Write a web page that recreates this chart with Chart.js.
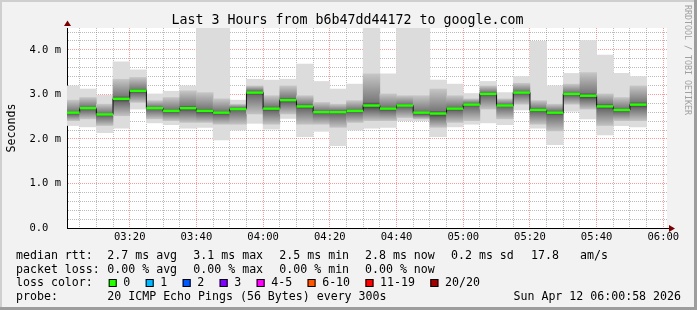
<!DOCTYPE html>
<html>
<head>
<meta charset="utf-8">
<script src="https://cdn.jsdelivr.net/npm/chart.js@4/dist/chart.umd.min.js"></script>
<style>
html, body { margin: 0; padding: 0; background: #f2f2f2; }
canvas { display: block; }
</style>
</head>
<body>
<canvas id="chart" width="697" height="310"></canvas>
<script>
// 5分ごとの計測スロット（開始時刻）
const slots = ['03:00','03:05','03:10','03:15','03:20','03:25','03:30','03:35','03:40','03:45',
               '03:50','03:55','04:00','04:05','04:10','04:15','04:20','04:25','04:30','04:35',
               '04:40','04:45','04:50','04:55','05:00','05:05','05:10','05:15','05:20','05:25',
               '05:30','05:35','05:40','05:45','05:50'];
// RTT (ms)
const median  = [2.59,2.69,2.55,2.90,3.08,2.69,2.63,2.69,2.63,2.59,2.67,3.04,2.68,2.87,2.73,2.60,2.60,2.63,2.75,2.68,
                 2.75,2.59,2.57,2.68,2.77,3.01,2.75,3.04,2.65,2.59,3.01,2.97,2.73,2.65,2.77];
const pingMax = [3.19,3.12,2.98,3.73,3.55,3.01,3.07,3.19,4.49,4.49,2.87,3.34,3.32,3.34,3.68,3.29,3.12,3.23,4.49,3.46,
                 4.49,4.49,3.32,3.23,3.02,3.29,3.04,3.40,4.19,3.19,3.47,4.21,3.88,3.47,3.40];
const pingHi  = [2.87,2.93,2.78,3.34,3.38,2.86,2.93,3.08,3.04,2.90,2.78,3.19,2.97,3.19,2.97,2.82,2.78,2.86,3.46,3.01,
                 2.97,2.97,3.12,2.97,2.90,3.19,2.90,3.25,2.86,2.78,3.23,3.49,3.01,2.93,3.19];
const pingLo  = [2.41,2.45,2.30,2.52,2.82,2.45,2.41,2.37,2.37,2.33,2.33,2.56,2.33,2.56,2.33,2.33,2.26,2.37,2.41,2.41,
                 2.48,2.45,2.26,2.37,2.41,2.67,2.45,2.78,2.33,2.18,2.78,2.67,2.30,2.41,2.41];
const pingMin = [2.30,2.27,2.14,2.24,2.67,2.36,2.32,2.24,2.26,1.98,2.20,2.35,2.22,2.46,2.05,2.17,1.85,2.20,2.24,2.26,
                 2.41,2.41,2.05,2.27,2.33,2.36,2.32,2.65,2.24,1.87,2.62,2.45,2.09,2.30,2.27];
const lossCount = [0,0,0,0,0,0,0,0,0,0,0,0,0,0,0,0,0,0,0,0,0,0,0,0,0,0,0,0,0,0,0,0,0,0,0];

// 凡例
const lossLabels = ['0','1','2','3','4-5','6-10','11-19','20/20'];
const lossColors = ['#26ff00','#00b8ff','#0059ff','#7e00ff','#ff00ff','#ff5500','#ff0000','#a10000'];
const rttStats  = ['2.7 ms avg','3.1 ms max','2.5 ms min','2.8 ms now','0.2 ms sd','17.8','am/s'];
const lossStats = ['0.00 % avg','0.00 % max','0.00 % min','0.00 % now'];
const title = 'Last 3 Hours from b6b47dd44172 to google.com';
const probeText = '20 ICMP Echo Pings (56 Bytes) every 300s';
const stamp = 'Sun Apr 12 06:00:58 2026';

// 軸範囲（03:00からの分）
const xMin = 1.2, xMax = 181.1;
const yMax = 4.49;

const W = 697, H = 310;
const MONO = "'DejaVu Sans Mono', monospace";

const toMin = s => { const [h, m] = s.split(':').map(Number); return h * 60 + m - 180; };
const fmt = v => {
    const h = 3 + Math.floor(v / 60), m = v % 60;
    return String(h).padStart(2, '0') + ':' + String(m).padStart(2, '0');
};
const centers = slots.map(s => toMin(s) + 2.5);
const lossColor = n => n === 0 ? lossColors[0] : lossColors[Math.min(n, lossColors.length - 1)];

// 煙の内側：中央値に向かって濃くなるグラデーション
function innerSmoke(ctx) {
    const chart = ctx.chart, y = chart.scales.y, i = ctx.dataIndex;
    if (!chart.chartArea || i === undefined) return '#999';
    const top = y.getPixelForValue(pingHi[i]);
    const bot = y.getPixelForValue(pingLo[i]);
    const mid = y.getPixelForValue(median[i]);
    const g = chart.ctx.createLinearGradient(0, top, 0, bot);
    const t = Math.min(1, Math.max(0, (mid - top) / (bot - top)));
    g.addColorStop(0, '#c6c6c6');
    g.addColorStop(Math.max(0, t - 0.08), '#7a7a7a');
    g.addColorStop(t, '#3a3a3a');
    g.addColorStop(Math.min(1, t + 0.1), '#6e6e6e');
    g.addColorStop(1, '#c2c2c2');
    return g;
}

const decor = {
    id: 'decor',
    beforeDraw(chart) {
        const c = chart.ctx, a = chart.chartArea;
        c.save();
        c.fillStyle = '#f2f2f2'; c.fillRect(0, 0, W, H);
        c.fillStyle = '#cfcfcf'; c.fillRect(0, 0, W, 2); c.fillRect(0, 0, 2, H);
        c.fillStyle = '#9d9d9d'; c.fillRect(0, H - 3, W, 3); c.fillRect(W - 3, 0, 3, H);
        c.fillStyle = '#ffffff'; c.fillRect(a.left, a.top, a.right - a.left, a.bottom - a.top);
        c.restore();
    },
    afterDraw(chart) {
        const c = chart.ctx, a = chart.chartArea;
        c.save();
        // 矢印
        c.fillStyle = '#7b0000'; c.strokeStyle = '#000'; c.lineWidth = 1;
        c.beginPath(); c.moveTo(a.right, a.bottom + 0.5); c.lineTo(a.right + 3, a.bottom + 0.5); c.stroke();
        c.beginPath(); c.moveTo(a.right + 8, a.bottom + 0.5); c.lineTo(a.right + 2, a.bottom - 3); c.lineTo(a.right + 2, a.bottom + 4); c.closePath(); c.fill();
        c.beginPath(); c.moveTo(a.left + 0.5, a.top - 7.5); c.lineTo(a.left - 3, a.top - 2); c.lineTo(a.left + 4, a.top - 2); c.closePath(); c.fill();

        // タイトル
        c.fillStyle = '#000';
        c.textBaseline = 'alphabetic';
        c.font = '13.3px ' + MONO;
        c.textAlign = 'center';
        c.fillText(title, 347.5, 23.5);

        // 縦軸ラベル
        c.font = '11.6px ' + MONO;
        c.save();
        c.translate(15, 128);
        c.rotate(-Math.PI / 2);
        c.fillText('Seconds', 0, 0);
        c.restore();

        // 透かし
        c.save();
        c.font = '8.3px ' + MONO;
        c.fillStyle = '#a0a0a0';
        c.textAlign = 'left';
        c.translate(685, 5);
        c.rotate(Math.PI / 2);
        c.fillText('RRDTOOL / TOBI OETIKER', 0, 0);
        c.restore();

        // 凡例
        c.font = '11.6px ' + MONO;
        c.textAlign = 'left';
        const cols = [107.3, 193.3, 279.3, 365, 451, 531, 580];
        c.fillText('median rtt:', 16, 258.7);
        rttStats.forEach((s, i) => c.fillText(s, cols[i], 258.7));
        c.fillText('packet loss:', 16, 272.5);
        lossStats.forEach((s, i) => c.fillText(s, cols[i], 272.5));
        c.fillText('loss color:', 16, 286.3);
        let x = 108.7;
        lossLabels.forEach((s, i) => {
            c.fillStyle = lossColors[i];
            c.fillRect(x, 279, 8, 8);
            c.strokeStyle = '#000';
            c.strokeRect(x + 0.5, 279.5, 7, 7);
            c.fillStyle = '#000';
            c.fillText(s, x + 14.6, 286.3);
            x += 14.6 + c.measureText(s).width + 15.4;
        });
        c.fillText('probe:', 16, 300);
        c.fillText(probeText, 107.3, 300);
        c.textAlign = 'right';
        c.fillText(stamp, 681, 300);
        c.restore();
    }
};

const gridMinor = 'rgba(120,120,120,0.5)';
const gridMajor = 'rgba(255,0,0,0.4)';

new Chart(document.getElementById('chart'), {
    type: 'bar',
    data: {
        datasets: [
            {
                type: 'line',
                order: 0,
                data: centers.map((x, i) => ({ x, y: median[i] })),
                showLine: false,
                pointStyle: 'line',
                pointRadius: 8.33,
                pointBorderWidth: 2.5,
                pointBorderColor: lossCount.map(lossColor),
                clip: 0
            },
            {
                type: 'line',
                order: 1,
                data: centers.map((x, i) => ({ x, y: median[i] })),
                stepped: 'middle',
                borderColor: '#111',
                borderWidth: 1,
                pointRadius: 0,
                fill: false,
                clip: 0
            },
            {
                order: 2,
                data: centers.map((x, i) => ({ x, y: [pingLo[i], pingHi[i]] })),
                backgroundColor: innerSmoke,
                borderWidth: 0,
                grouped: false,
                barPercentage: 1,
                categoryPercentage: 1,
                clip: 0
            },
            {
                order: 3,
                data: centers.map((x, i) => ({ x, y: [pingMin[i], pingMax[i]] })),
                backgroundColor: '#dcdcdc',
                borderWidth: 0,
                grouped: false,
                barPercentage: 1,
                categoryPercentage: 1,
                clip: 0
            }
        ]
    },
    options: {
        responsive: false,
        devicePixelRatio: 1,
        animation: false,
        events: [],
        layout: { padding: { top: 28, right: 30, bottom: 62, left: 0 } },
        plugins: { legend: { display: false }, tooltip: { enabled: false }, title: { display: false } },
        scales: {
            x: {
                type: 'linear',
                min: xMin,
                max: xMax,
                offset: false,
                z: 1,
                afterFit: s => { s.height = 20; },
                grid: {
                    offset: false,
                    drawTicks: false,
                    lineWidth: 1,
                    color: ctx => (ctx.tick && ctx.tick.value % 20 === 0) ? gridMajor : gridMinor
                },
                border: { color: '#000', width: 1, dash: [1, 1] },
                ticks: {
                    stepSize: 5,
                    includeBounds: false,
                    autoSkip: false,
                    maxRotation: 0,
                    padding: 3,
                    color: '#000',
                    font: { family: MONO, size: 10.5 },
                    callback: v => (v % 20 === 0 ? fmt(v) : '')
                }
            },
            y: {
                min: 0,
                max: yMax,
                z: 1,
                afterFit: s => { s.width = 67; },
                grid: {
                    drawTicks: false,
                    lineWidth: 1,
                    color: ctx => {
                        const v = ctx.tick ? ctx.tick.value : 0;
                        return (v > 0 && Math.abs(v - Math.round(v)) < 1e-9) ? gridMajor : gridMinor;
                    }
                },
                border: { color: '#000', width: 1, dash: [1, 1] },
                ticks: {
                    stepSize: 0.2,
                    includeBounds: false,
                    autoSkip: false,
                    padding: 6,
                    color: '#000',
                    font: { family: MONO, size: 10.5 },
                    callback: v => {
                        if (Math.abs(v - Math.round(v)) > 1e-9) return '';
                        return v === 0 ? '0.0  ' : v.toFixed(1) + ' m';
                    }
                }
            }
        }
    },
    plugins: [decor]
});
</script>
</body>
</html>
